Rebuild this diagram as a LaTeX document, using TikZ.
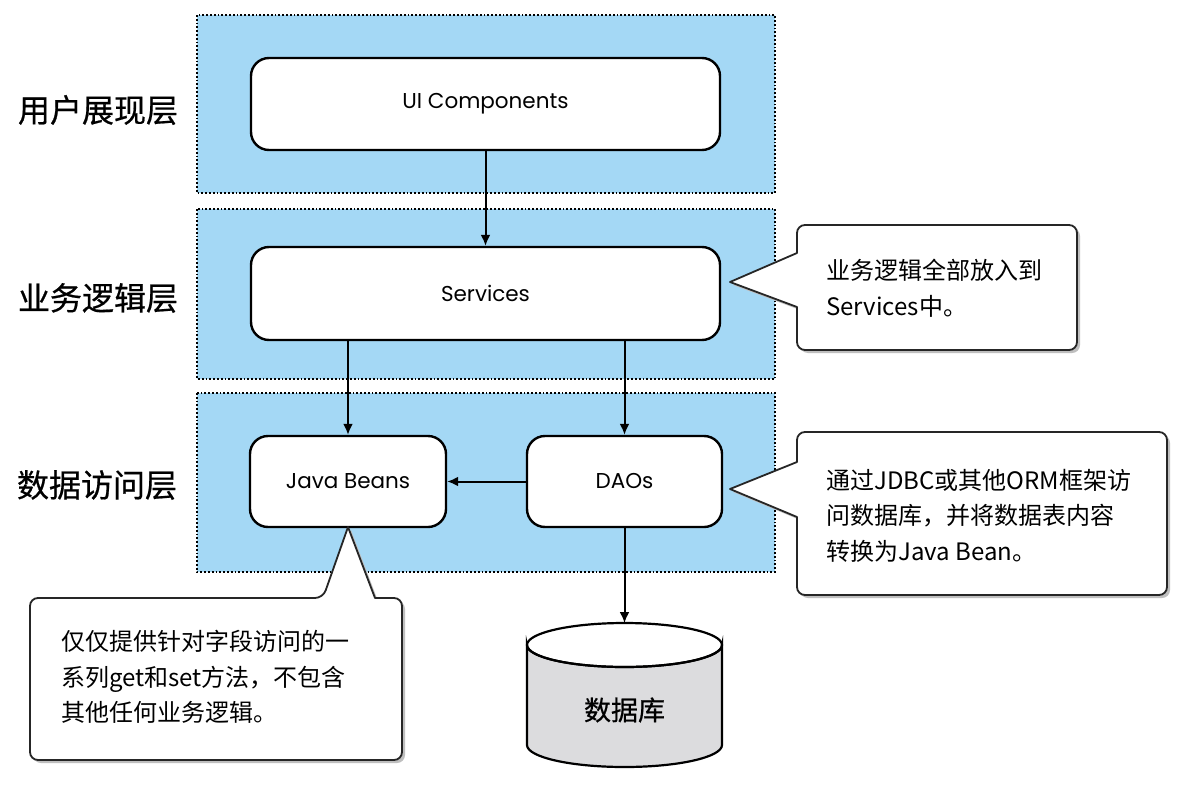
\documentclass[tikz,border=0pt]{standalone}
\usepackage{fontspec}
\setmainfont{Poppins}
\newfontfamily\cjk{Noto Sans CJK SC}
\newfontfamily\cjkm[FakeBold=0.6]{Noto Sans CJK SC}
\usetikzlibrary{arrows.meta}
\definecolor{bandblue}{RGB}{164,216,245}
\definecolor{dbgray}{RGB}{220,220,222}
\tikzset{
  band/.style={draw=black, fill=bandblue, line width=1.8pt, dotted},
  layerlabel/.style={font=\cjkm\fontsize{32}{36}\selectfont, anchor=center},
  compbox/.style={draw=black, fill=white, line width=2.4pt, rounded corners=18pt, font=\fontsize{21.5}{25}\selectfont},
  arr/.style={line width=2pt, -{Latex[length=11pt,width=10pt]}},
  callout/.style={draw=black!85, fill=white, line width=1.8pt, line join=round},
  calloutshadow/.style={fill=black!25, draw=none},
  callouttext/.style={font=\cjk\fontsize{24}{35.5}\selectfont, align=left, anchor=north west, inner sep=0pt},
}
\begin{document}
\begin{tikzpicture}[x=1pt,y=-1pt]
\useasboundingbox (0,0) rectangle (1204,784);
\fill[white] (0,0) rectangle (1204,784);
% layer bands
\draw[band] (197,15) rectangle (775,193);
\draw[band] (197,209) rectangle (775,379);
\draw[band] (197,393) rectangle (775,572);
% layer labels
\node[layerlabel] (l1) at (98,110) {用户展现层};
\node[layerlabel] (l2) at (98,298) {业务逻辑层};
\node[layerlabel] (l3) at (97,485) {数据访问层};
% component boxes
\node[compbox, minimum width=469pt, minimum height=92pt] (ui) at (485.5,104) {UI Components};
\node[compbox, minimum width=469pt, minimum height=93pt] (svc) at (485.5,293.5) {Services};
\node[compbox, minimum width=196pt, minimum height=91pt] (jb) at (348,481.5) {Java Beans};
\node[compbox, minimum width=195pt, minimum height=91pt] (dao) at (624.5,481.5) {DAOs};
% database cylinder
\draw[line width=2.2pt, fill=dbgray] (527,645) -- (527,745) arc[start angle=180, end angle=0, x radius=97.5, y radius=22] -- (722,645) arc[start angle=0, end angle=180, x radius=97.5, y radius=22] -- cycle;
\draw[line width=2.2pt] (624.5,645) ellipse[x radius=97.5, y radius=22];
\coordinate (dbtop) at (624.5,623);
\node[font=\cjkm\fontsize{27}{30}\selectfont] (db) at (624.5,710) {数据库};
% arrows
\draw[arr] (ui.south) -- (svc.north);
\draw[arr] (svc.south -| jb.north) -- (jb.north);
\draw[arr] (svc.south -| dao.north) -- (dao.north);
\draw[arr] (dao.west) -- (jb.east);
\draw[arr] (dao.south) -- (dbtop);
% callout 1
\fill[calloutshadow] (733,285) -- (800,310) [rounded corners=8pt]-- (800,353) -- (1080,353) -- (1080,228) -- (800,228) [sharp corners]-- (800,256) -- cycle;
\draw[callout] (730,282) -- (797,307) [rounded corners=8pt]-- (797,350) -- (1077,350) -- (1077,225) -- (797,225) [sharp corners]-- (797,253) -- cycle;
\node[callouttext] (c1) at (826,259) {业务逻辑全部放入到\\Services中。};
% callout 2
\fill[calloutshadow] (733,492) -- (800,520) [rounded corners=8pt]-- (800,598) -- (1170,598) -- (1170,435) -- (800,435) [sharp corners]-- (800,465) -- cycle;
\draw[callout] (730,489) -- (797,517) [rounded corners=8pt]-- (797,595) -- (1167,595) -- (1167,432) -- (797,432) [sharp corners]-- (797,462) -- cycle;
\node[callouttext] (c2) at (826,469) {通过JDBC或其他ORM框架访\\问数据库，并将数据表内容\\转换为Java Bean。};
% callout 3
\fill[calloutshadow] (351,530) -- (378,601) [rounded corners=8pt]-- (405,601) -- (405,763) -- (33,763) -- (33,601) -- (326,601) [sharp corners]-- cycle;
\draw[callout] (348,527) -- (375,598) [rounded corners=8pt]-- (402,598) -- (402,760) -- (30,760) -- (30,598) -- (323,598) [sharp corners]-- cycle;
\node[callouttext] (c3) at (61,630) {仅仅提供针对字段访问的一\\系列get和set方法，不包含\\其他任何业务逻辑。};
\end{tikzpicture}
\end{document}
